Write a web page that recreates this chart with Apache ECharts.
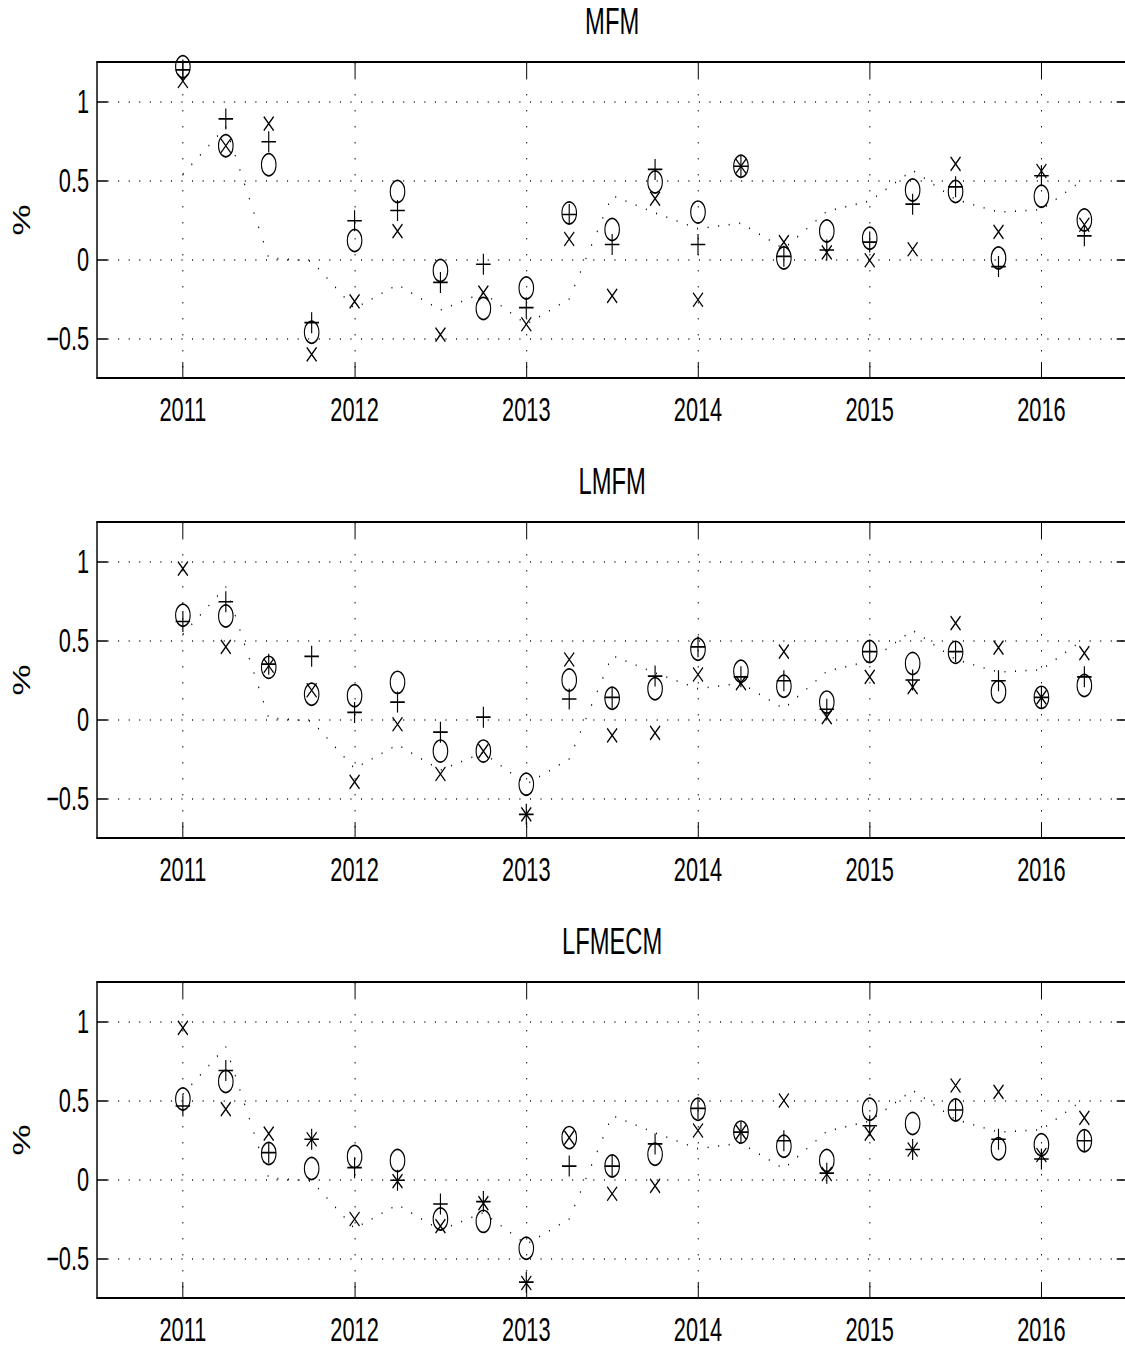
<!DOCTYPE html>
<html><head><meta charset="utf-8">
<script src="https://cdn.jsdelivr.net/npm/echarts@6/dist/echarts.min.js"></script>
<style>
html,body{margin:0;padding:0;overflow:hidden;background:#fff}
#wrap{width:1125px;height:1349px;overflow:hidden;position:relative;background:#fff}
#chart{width:1710px;height:1349px;transform:scaleX(0.66);transform-origin:0 0}
</style></head>
<body><div id="wrap"><div id="chart"></div></div>
<script>
// ---- data ----
const quarters = [2011, 2011.25, 2011.5, 2011.75, 2012, 2012.25, 2012.5, 2012.75,
  2013, 2013.25, 2013.5, 2013.75, 2014, 2014.25, 2014.5, 2014.75,
  2015, 2015.25, 2015.5, 2015.75, 2016, 2016.25];
const yearTicks = [2011, 2012, 2013, 2014, 2015, 2016];
const valueTicks = [-0.5, 0, 0.5, 1];
const panelTitles = ['MFM', 'LMFM', 'LFMECM'];

const actual = [0.54, 0.84, 0.01, -0.01, -0.31, -0.16, -0.32, -0.21,
  -0.41, -0.25, 0.405, 0.295, 0.195, 0.23, 0.068, 0.305,
  0.37, 0.565, 0.38, 0.30, 0.315, 0.51];

const mfmCircle = [1.22, 0.72, 0.60, -0.46, 0.12, 0.43, -0.07, -0.31, -0.18, 0.295, 0.19, 0.49,
  0.30, 0.59, 0.01, 0.18, 0.135, 0.44, 0.43, 0.01, 0.40, 0.25];
const mfmPlus = [1.20, 0.89, 0.745, -0.40, 0.245, 0.31, -0.145, -0.03, -0.305, 0.285, 0.095, 0.57,
  0.095, 0.59, 0.02, 0.06, 0.11, 0.35, 0.46, -0.045, 0.53, 0.15];
const mfmCross = [1.13, 0.72, 0.86, -0.60, -0.265, 0.18, -0.475, -0.21, -0.41, 0.13, -0.23, 0.385,
  -0.255, 0.59, 0.11, 0.045, -0.005, 0.065, 0.605, 0.175, 0.56, 0.22];

const lmfmCircle = [0.66, 0.655, 0.33, 0.16, 0.15, 0.235, -0.20, -0.20, -0.41, 0.25, 0.135, 0.195,
  0.445, 0.305, 0.21, 0.11, 0.43, 0.355, 0.425, 0.175, 0.14, 0.215];
const lmfmPlus = [0.62, 0.745, 0.35, 0.40, 0.045, 0.11, -0.08, 0.015, -0.60, 0.13, 0.14, 0.275,
  0.46, 0.27, 0.245, 0.065, 0.43, 0.25, 0.43, 0.245, 0.14, 0.27];
const lmfmCross = [0.955, 0.46, 0.34, 0.185, -0.395, -0.03, -0.345, -0.20, -0.60, 0.38, -0.10, -0.085,
  0.285, 0.23, 0.43, 0.015, 0.27, 0.205, 0.61, 0.455, 0.14, 0.42];

const lfmecmCircle = [0.51, 0.62, 0.165, 0.07, 0.145, 0.12, -0.25, -0.265, -0.435, 0.265, 0.085, 0.16,
  0.445, 0.30, 0.21, 0.12, 0.445, 0.355, 0.44, 0.195, 0.22, 0.245];
const lfmecmPlus = [0.465, 0.69, 0.17, 0.255, 0.075, -0.005, -0.155, -0.14, -0.65, 0.085, 0.085, 0.225,
  0.45, 0.30, 0.245, 0.04, 0.34, 0.19, 0.44, 0.255, 0.13, 0.245];
const lfmecmCross = [0.96, 0.445, 0.29, 0.255, -0.25, -0.01, -0.295, -0.15, -0.655, 0.265, -0.09, -0.04,
  0.31, 0.30, 0.50, 0.035, 0.29, 0.19, 0.595, 0.555, 0.155, 0.39];

const panels = [
  [mfmCircle, mfmPlus, mfmCross],
  [lmfmCircle, lmfmPlus, lmfmCross],
  [lfmecmCircle, lfmecmPlus, lfmecmCross]
];

// ---- styling / layout ----
const FONT = '"Liberation Sans", Arial, Helvetica, sans-serif';
const gridLeft = 147, gridWidth = 1561, gridHeight = 316;
const gridTops = [62, 522, 982];
const dots = [1.5, 14.5];
const plusPath = 'path://M0,5 L10,5 M5,0 L5,10';
const crossPath = 'path://M0,0 L10,10 M10,0 L0,10';

const chart = echarts.init(document.getElementById('chart'), null, {renderer: 'svg'});

const grids = [], xAxes = [], yAxes = [], titles = [], series = [];
const pair = arr => quarters.map((q, i) => [q, arr[i]]);
const fmtY = v => String(v).replace('-', '\u2212');
const fmtX = v => String(v);

panels.forEach((p, i) => {
  grids.push({left: gridLeft, top: gridTops[i], width: gridWidth, height: gridHeight, containLabel: false});
  titles.push({
    text: panelTitles[i], left: gridLeft + gridWidth / 2, top: gridTops[i] - 59, textAlign: 'center', padding: 0,
    textStyle: {fontFamily: FONT, fontSize: 36, fontWeight: 'normal', color: '#000'}
  });
  const axLine = {show: true, onZero: false, lineStyle: {color: '#000', width: 2.2}};
  xAxes.push({
    type: 'value', gridIndex: i, position: 'bottom', min: 2010.5, max: 2016.5,
    axisLine: axLine,
    axisTick: {show: true, inside: true, length: 16, customValues: yearTicks, lineStyle: {color: '#000', width: 1.5}},
    axisLabel: {show: true, customValues: yearTicks, margin: 15, color: '#000', fontFamily: FONT, fontSize: 33, formatter: fmtX},
    splitLine: {show: true, lineStyle: {color: '#111', width: 1.5, type: dots}}
  });
  xAxes.push({
    type: 'value', gridIndex: i, position: 'top', min: 2010.5, max: 2016.5,
    axisLine: axLine,
    axisTick: {show: true, inside: true, length: 16, customValues: yearTicks, lineStyle: {color: '#000', width: 1.5}},
    axisLabel: {show: false},
    splitLine: {show: false}
  });
  yAxes.push({
    type: 'value', gridIndex: i, position: 'left', min: -0.75, max: 1.25,
    name: '%', nameLocation: 'middle', nameRotate: 90, nameGap: 96,
    nameTextStyle: {fontFamily: FONT, fontSize: 35, color: '#000'},
    axisLine: axLine,
    axisTick: {show: true, inside: true, length: 16, customValues: valueTicks, lineStyle: {color: '#000', width: 1.5}},
    axisLabel: {show: true, customValues: valueTicks, margin: 12, color: '#000', fontFamily: FONT, fontSize: 33, formatter: fmtY},
    splitLine: {show: true, lineStyle: {color: '#111', width: 1.5, type: dots}}
  });
  yAxes.push({
    type: 'value', gridIndex: i, position: 'right', min: -0.75, max: 1.25,
    axisLine: axLine,
    axisTick: {show: true, inside: true, length: 16, customValues: valueTicks, lineStyle: {color: '#000', width: 1.5}},
    axisLabel: {show: false},
    splitLine: {show: false}
  });
  const xi = i * 2, yi = i * 2;
  series.push({
    type: 'line', xAxisIndex: xi, yAxisIndex: yi, data: pair(actual), symbol: 'none', silent: true,
    lineStyle: {color: '#000', width: 1.6, type: dots}, z: 3
  });
  const mk = (arr, symbol, size) => ({
    type: 'scatter', xAxisIndex: xi, yAxisIndex: yi, data: pair(arr), symbol: symbol, symbolSize: size,
    silent: true, z: 4,
    itemStyle: {color: 'rgba(0,0,0,0)', borderColor: '#000', borderWidth: 1.7, opacity: 1}
  });
  series.push(mk(p[0], 'circle', 22));
  series.push(mk(p[1], plusPath, [22, 21]));
  series.push(mk(p[2], crossPath, [15, 14]));
});

chart.setOption({
  backgroundColor: '#fff',
  animation: false,
  title: titles,
  grid: grids,
  xAxis: xAxes,
  yAxis: yAxes,
  series: series
});
</script>
</body></html>
